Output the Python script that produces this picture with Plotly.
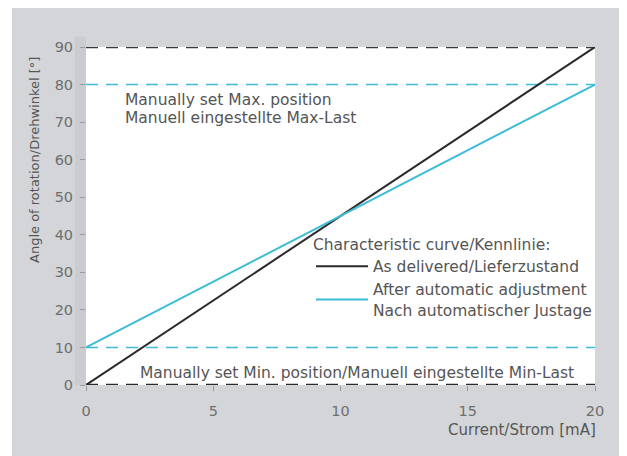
import plotly.graph_objects as go

current = [0, 20]
as_delivered = [0, 90]
after_adjustment = [10, 80]
max_limit_default = [90, 90]
min_limit_default = [0, 0]
max_limit_manual = [80, 80]
min_limit_manual = [10, 10]
x_ticks = [0, 5, 10, 15, 20]
y_ticks = [0, 10, 20, 30, 40, 50, 60, 70, 80, 90]

FONT = "DejaVu Sans"
GREY_TXT = "#555555"
TICK_TXT = "#6e6e6e"
CYAN = "#3dbcd6"
DARK = "#2a2a2a"
TXT_SIZE = 15.5

fig = go.Figure()
fig.add_trace(go.Scatter(x=current, y=max_limit_default, mode="lines",
                         line=dict(color="#3a3a3a", width=2.5, dash="12px,8px"),
                         showlegend=False, hoverinfo="skip", cliponaxis=False))
fig.add_trace(go.Scatter(x=current, y=min_limit_default, mode="lines",
                         line=dict(color="#2a2a2a", width=2.5, dash="12px,8px"),
                         showlegend=False, hoverinfo="skip", cliponaxis=False))
fig.add_trace(go.Scatter(x=current, y=max_limit_manual, mode="lines",
                         line=dict(color=CYAN, width=1.5, dash="12px,8px"),
                         showlegend=False, hoverinfo="skip"))
fig.add_trace(go.Scatter(x=current, y=min_limit_manual, mode="lines",
                         line=dict(color=CYAN, width=1.5, dash="12px,8px"),
                         showlegend=False, hoverinfo="skip"))
fig.add_trace(go.Scatter(x=current, y=as_delivered, mode="lines",
                         line=dict(color=DARK, width=2),
                         name="As delivered/Lieferzustand"))
fig.add_trace(go.Scatter(x=current, y=after_adjustment, mode="lines",
                         line=dict(color=CYAN, width=2),
                         name="After automatic adjustment<br>Nach automatischer Justage"))

shapes = [
    dict(type="rect", xref="paper", yref="paper", x0=-0.1454, x1=1.07,
         y0=-0.215, y1=1.1154, fillcolor="#d3d5d8", line=dict(width=0), layer="below"),
    dict(type="rect", xref="paper", yref="paper", x0=-0.022, x1=0, y0=0.0, y1=1.03,
         fillcolor="#cacccf", line=dict(width=0), layer="below"),
    dict(type="rect", xref="paper", yref="paper", x0=0, x1=1, y0=0, y1=1,
         fillcolor="white", line=dict(width=0), layer="below"),
]

annotations = [
    dict(x=1.45, y=75.9, xref="x", yref="y", xanchor="left", yanchor="middle",
         text="Manually set Max. position", showarrow=False,
         font=dict(family=FONT, size=TXT_SIZE, color=GREY_TXT)),
    dict(x=1.45, y=71.2, xref="x", yref="y", xanchor="left", yanchor="middle",
         text="Manuell eingestellte Max-Last", showarrow=False,
         font=dict(family=FONT, size=TXT_SIZE, color=GREY_TXT)),
    dict(x=10.65, y=3.3, xref="x", yref="y", xanchor="center", yanchor="middle",
         text="Manually set Min. position/Manuell eingestellte Min-Last", showarrow=False,
         font=dict(family=FONT, size=TXT_SIZE, color=GREY_TXT)),
    dict(x=1.006, y=-0.133, xref="paper", yref="paper", xanchor="right", yanchor="middle",
         text="Current/Strom [mA]", showarrow=False,
         font=dict(family=FONT, size=15, color=GREY_TXT)),
    dict(x=-0.1, y=0.666, xref="paper", yref="paper", xanchor="center", yanchor="middle",
         text="Angle of rotation/Drehwinkel [°]", showarrow=False, textangle=-90,
         font=dict(family=FONT, size=13, color=GREY_TXT)),
]

fig.update_layout(
    width=619, height=448,
    margin=dict(l=78, r=32, t=39, b=71, autoexpand=False),
    paper_bgcolor="white",
    plot_bgcolor="rgba(0,0,0,0)",
    font=dict(family=FONT, size=TXT_SIZE, color=GREY_TXT),
    shapes=shapes,
    annotations=annotations,
    legend=dict(
        x=0.442, y=0.46, xanchor="left", yanchor="top",
        bgcolor="rgba(255,255,255,0)",
        title=dict(text="Characteristic curve/Kennlinie:", side="top",
                   font=dict(family=FONT, size=TXT_SIZE, color=GREY_TXT)),
        font=dict(family=FONT, size=TXT_SIZE, color=GREY_TXT),
        tracegroupgap=0, itemwidth=52,
    ),
    xaxis=dict(range=[0, 20], tickvals=x_ticks, showgrid=False, zeroline=False,
               showline=False, ticks="outside", ticklen=5, tickcolor="#9a9a9a",
               ticklabelstandoff=8,
               tickfont=dict(family=FONT, size=14.5, color=TICK_TXT)),
    yaxis=dict(range=[0, 90], tickvals=y_ticks, showgrid=False, zeroline=False,
               showline=False, ticks="outside", ticklen=5, tickcolor="#9a9a9a",
               ticklabelstandoff=4,
               tickfont=dict(family=FONT, size=14.5, color=TICK_TXT)),
)

fig.write_html("out.html")
